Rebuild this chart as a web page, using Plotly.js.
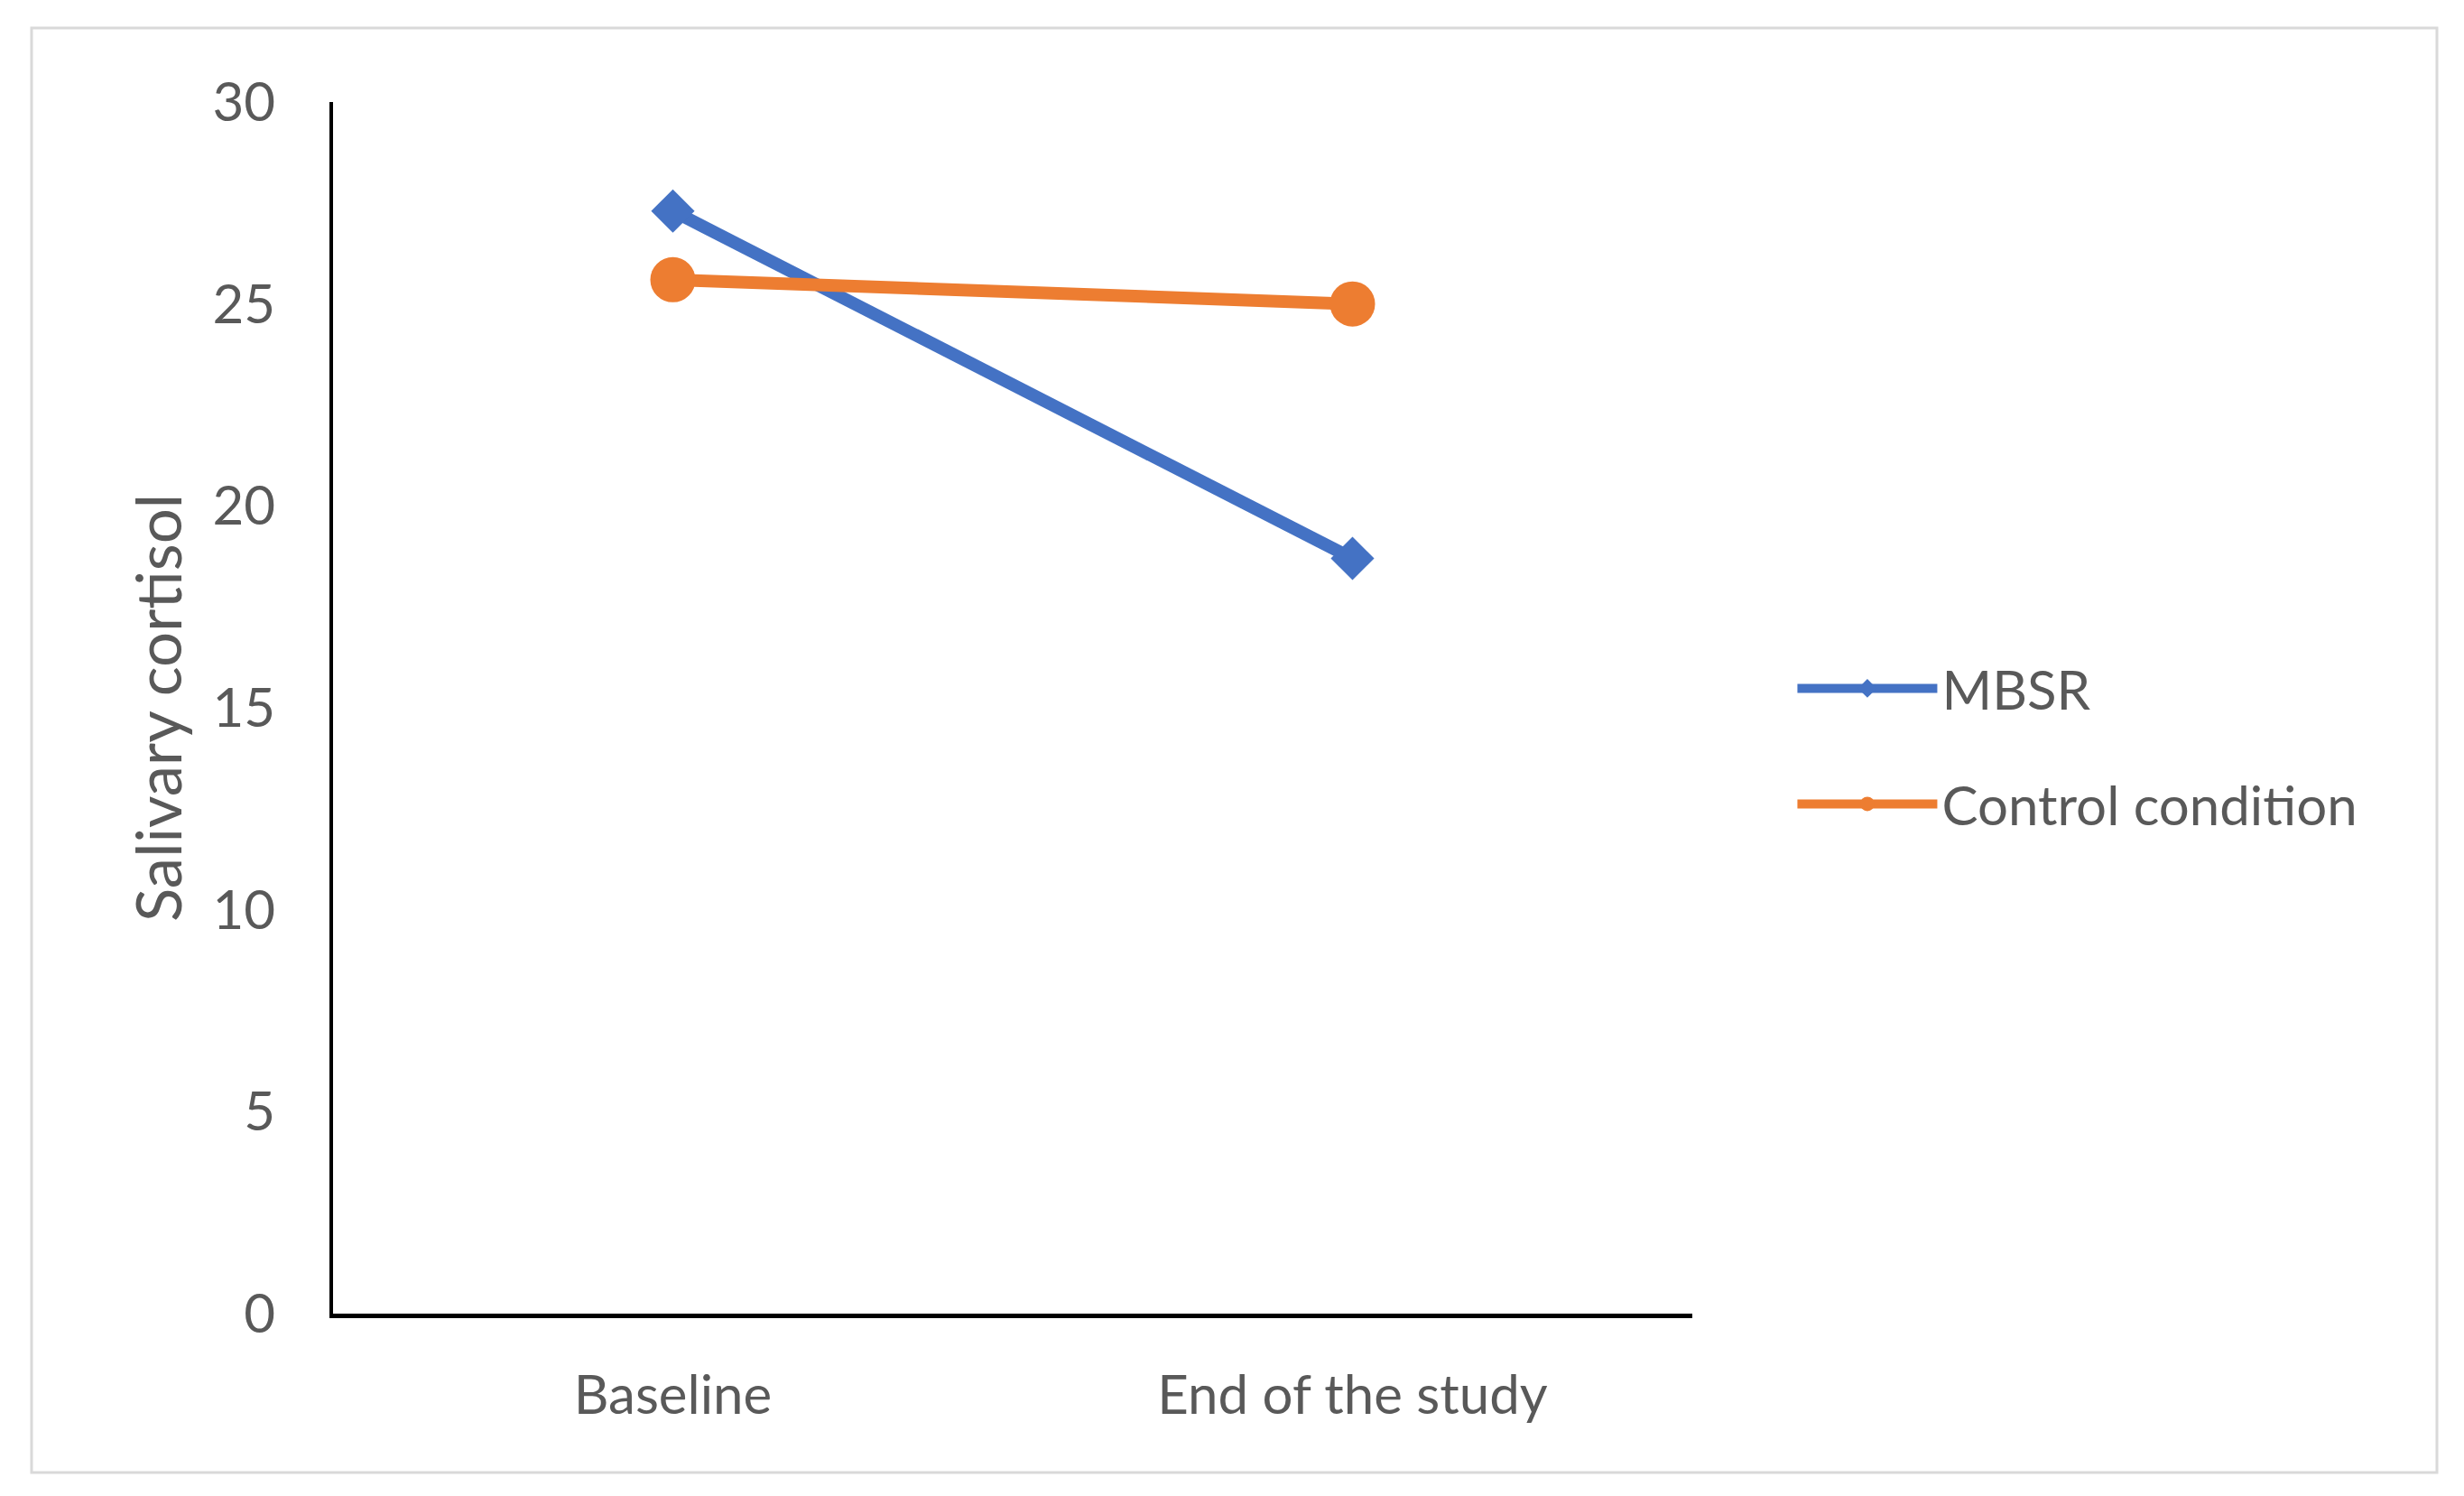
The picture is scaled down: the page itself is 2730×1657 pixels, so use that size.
<!DOCTYPE html>
<html>
<head>
<meta charset="utf-8">
<script src="https://cdn.plot.ly/plotly-3.0.1.min.js"></script>
<style>
  html, body { margin: 0; padding: 0; background: #ffffff; }
  #chart { width: 2730px; height: 1657px; }
</style>
</head>
<body>
<div id="chart"></div>
<script>
// Data
const categories = ["Baseline", "End of the study"];
const mbsrValues = [27.3, 18.7];
const controlValues = [25.6, 25.0];
const seriesNames = ["MBSR", "Control condition"];
const yTickValues = [0, 5, 10, 15, 20, 25, 30];
const yTitle = "Salivary cortisol";

const FONT = "Lato, 'Open Sans', 'Liberation Sans', sans-serif";
const TEXT = "#595959";

const traces = [
  {
    type: "scatter", mode: "lines+markers",
    x: categories, y: mbsrValues, name: seriesNames[0],
    legendgroup: "a",
    line: { color: "#4472C4", width: 14 },
    marker: { symbol: "diamond", size: 37, color: "#4472C4" },
    cliponaxis: false
  },
  {
    type: "scatter", mode: "lines+markers",
    x: categories, y: controlValues, name: seriesNames[1],
    legendgroup: "b",
    line: { color: "#ED7D31", width: 14 },
    marker: { symbol: "circle", size: 50, color: "#ED7D31" },
    cliponaxis: false
  }
];

const layout = {
  width: 2730, height: 1657,
  margin: { l: 369, r: 855, t: 113, b: 202, pad: 0 },
  paper_bgcolor: "#ffffff", plot_bgcolor: "#ffffff",
  font: { family: FONT, color: TEXT, size: 60 },
  showlegend: true,
  legend: {
    x: 1.074, xanchor: "left", y: 0.550, yanchor: "top",
    font: { family: FONT, color: TEXT, size: 60 },
    itemwidth: 155, tracegroupgap: 47, traceorder: "grouped",
    bgcolor: "rgba(0,0,0,0)", borderwidth: 0
  },
  xaxis: {
    type: "category", range: [-0.5, 1.5],
    showline: true, linecolor: "#000000", linewidth: 5,
    showgrid: false, zeroline: false,
    ticks: "outside", ticklen: 34, tickcolor: "rgba(0,0,0,0)",
    tickfont: { family: FONT, color: TEXT, size: 60 },
    fixedrange: true
  },
  yaxis: {
    range: [0, 30], tickvals: yTickValues,
    showline: true, linecolor: "#000000", linewidth: 4,
    showgrid: false, zeroline: false,
    ticks: "outside", ticklen: 48, tickcolor: "rgba(0,0,0,0)",
    tickfont: { family: FONT, color: TEXT, size: 60 },
    title: { text: yTitle, font: { family: FONT, color: TEXT, size: 69 }, standoff: 12 },
    fixedrange: true
  },
  shapes: [
    {
      type: "rect", xref: "paper", yref: "paper",
      x0: -0.2218, x1: 1.5478, y0: -0.1311, y1: 1.0611,
      line: { color: "#d9d9d9", width: 3 }, fillcolor: "rgba(0,0,0,0)", layer: "below"
    }
  ]
};

Plotly.newPlot("chart", traces, layout, { displayModeBar: false, staticPlot: true });
</script>
</body>
</html>
